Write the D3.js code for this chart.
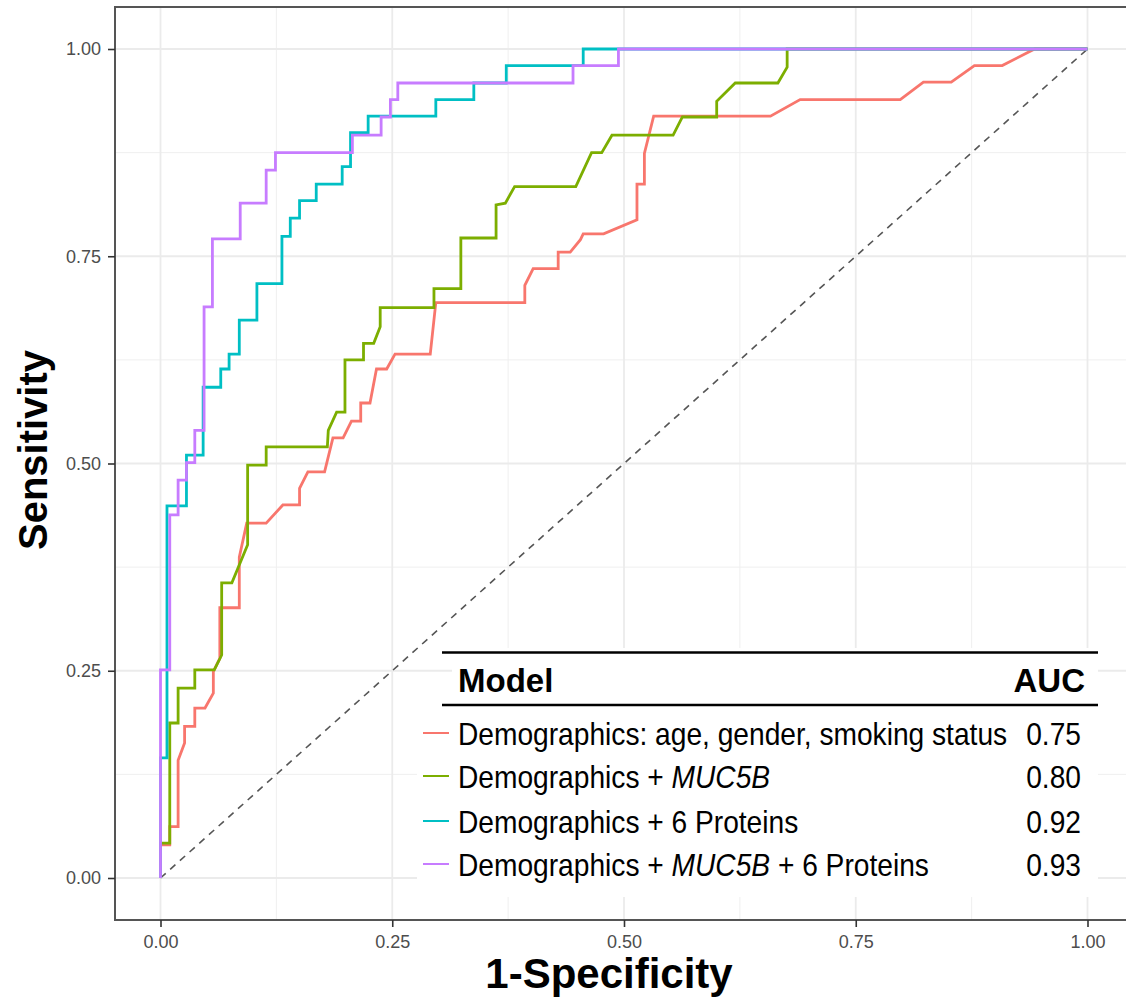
<!DOCTYPE html>
<html>
<head>
<meta charset="utf-8">
<script src="https://cdn.jsdelivr.net/npm/d3@7"></script>
<style>
body { margin: 0; background: #fff; }
text { font-family: "Liberation Sans", Arial, sans-serif; }
</style>
</head>
<body>
<script>

// models, their AUC and colours (ggplot default hues)
let models = ["Demographics: age, gender, smoking status", "Demographics + MUC5B",
  "Demographics + 6 Proteins", "Demographics + MUC5B + 6 Proteins"];
let aucs = ["0.75", "0.80", "0.92", "0.93"];
let colors = ["#F8766D", "#7CAE00", "#00BFC4", "#C77CFF"];
let tickVals = [0, 0.25, 0.5, 0.75, 1];
let minorVals = [0.125, 0.375, 0.625, 0.875];

// ROC points [1-specificity, sensitivity]
let rocDemo = [[0,0],[0,0.040],[0.010,0.040],[0.010,0.062],[0.019,0.062],[0.019,0.142],[0.026,0.163],
  [0.026,0.183],[0.037,0.183],[0.037,0.205],[0.048,0.205],[0.057,0.223],[0.057,0.249],[0.064,0.265],
  [0.064,0.326],[0.085,0.326],[0.085,0.387],[0.093,0.428],[0.114,0.428],[0.132,0.450],[0.150,0.450],
  [0.150,0.470],[0.159,0.490],[0.177,0.490],[0.186,0.531],[0.197,0.531],[0.206,0.551],[0.216,0.551],
  [0.216,0.573],[0.226,0.573],[0.233,0.614],[0.244,0.614],[0.253,0.632],[0.291,0.632],[0.297,0.694],
  [0.393,0.694],[0.393,0.715],[0.402,0.735],[0.429,0.735],[0.429,0.755],[0.442,0.755],[0.453,0.770],
  [0.456,0.777],[0.478,0.777],[0.514,0.794],[0.514,0.837],[0.522,0.837],[0.522,0.874],[0.532,0.919],
  [0.658,0.919],[0.690,0.939],[0.798,0.939],[0.823,0.960],[0.853,0.960],[0.878,0.980],[0.908,0.980],
  [0.943,1],[1,1]];

let rocMuc = [[0,0],[0,0.042],[0.010,0.042],[0.010,0.187],[0.019,0.187],[0.019,0.229],[0.037,0.229],
  [0.037,0.251],[0.058,0.251],[0.066,0.269],[0.066,0.356],[0.077,0.356],[0.094,0.402],[0.094,0.498],
  [0.114,0.498],[0.114,0.520],[0.180,0.520],[0.181,0.540],[0.190,0.562],[0.199,0.562],[0.199,0.625],
  [0.219,0.625],[0.219,0.645],[0.230,0.645],[0.237,0.665],[0.237,0.688],[0.295,0.688],[0.295,0.711],
  [0.324,0.711],[0.324,0.772],[0.362,0.772],[0.362,0.812],[0.372,0.814],[0.382,0.834],[0.448,0.834],
  [0.465,0.875],[0.476,0.875],[0.487,0.896],[0.553,0.896],[0.563,0.918],[0.600,0.918],[0.600,0.937],
  [0.620,0.959],[0.666,0.959],[0.676,0.978],[0.676,1],[1,1]];

let rocProt = [[0,0],[0,0.145],[0.007,0.145],[0.007,0.449],[0.028,0.449],[0.028,0.510],[0.046,0.510],
  [0.046,0.592],[0.065,0.592],[0.065,0.614],[0.074,0.614],[0.074,0.632],[0.085,0.632],[0.085,0.673],
  [0.104,0.673],[0.104,0.717],[0.131,0.717],[0.131,0.774],[0.140,0.774],[0.140,0.796],[0.150,0.796],
  [0.150,0.817],[0.168,0.817],[0.168,0.837],[0.196,0.837],[0.196,0.858],[0.205,0.858],[0.205,0.899],
  [0.224,0.899],[0.224,0.919],[0.297,0.919],[0.297,0.939],[0.338,0.939],[0.338,0.959],[0.373,0.959],
  [0.373,0.980],[0.456,0.980],[0.456,1],[1,1]];

let rocAll = [[0,0],[0,0.251],[0.010,0.251],[0.010,0.438],[0.019,0.438],[0.019,0.480],[0.028,0.480],
  [0.028,0.501],[0.037,0.501],[0.037,0.540],[0.047,0.540],[0.047,0.689],[0.056,0.689],[0.056,0.771],
  [0.086,0.771],[0.086,0.814],[0.114,0.814],[0.114,0.854],[0.124,0.854],[0.124,0.875],[0.207,0.875],
  [0.207,0.896],[0.238,0.896],[0.238,0.918],[0.248,0.918],[0.248,0.939],[0.256,0.939],[0.256,0.959],
  [0.445,0.959],[0.445,0.980],[0.494,0.980],[0.494,1],[1,1]];

let curves = [rocDemo, rocMuc, rocProt, rocAll];

let svg = d3.select("body").append("svg")
  .attr("width", 1126)
  .attr("height", 997);

let panel = {left: 115, top: 7, bottom: 920, right: 1135};

let x = d3.scaleLinear().domain([0, 1]).range([160.5, 1087.5]);
let y = d3.scaleLinear().domain([0, 1]).range([878, 49]);

// grid
svg.selectAll(".vminor").data(minorVals).enter().append("line")
  .attr("x1", d => x(d)).attr("x2", d => x(d))
  .attr("y1", panel.top).attr("y2", panel.bottom)
  .style("stroke", "#EFEFEF").style("stroke-width", 1);
svg.selectAll(".hminor").data(minorVals).enter().append("line")
  .attr("y1", d => y(d)).attr("y2", d => y(d))
  .attr("x1", panel.left).attr("x2", panel.right)
  .style("stroke", "#EFEFEF").style("stroke-width", 1);
svg.selectAll(".vmajor").data(tickVals).enter().append("line")
  .attr("x1", d => x(d)).attr("x2", d => x(d))
  .attr("y1", panel.top).attr("y2", panel.bottom)
  .style("stroke", "#EBEBEB").style("stroke-width", 1.8);
svg.selectAll(".hmajor").data(tickVals).enter().append("line")
  .attr("y1", d => y(d)).attr("y2", d => y(d))
  .attr("x1", panel.left).attr("x2", panel.right)
  .style("stroke", "#EBEBEB").style("stroke-width", 1.8);

// chance line
svg.append("line")
  .attr("x1", x(0)).attr("y1", y(0))
  .attr("x2", x(1)).attr("y2", y(1))
  .style("stroke", "#555").style("stroke-width", 1.6)
  .style("stroke-dasharray", "7,6");

let line = d3.line().x(d => x(d[0])).y(d => y(d[1]));

curves.forEach(function (c, i) {
  svg.append("path")
    .datum(c)
    .attr("d", line)
    .style("fill", "none")
    .style("stroke", colors[i])
    .style("stroke-width", 2.8)
    .style("stroke-linejoin", "miter");
});

// panel border
svg.append("rect")
  .attr("x", panel.left).attr("y", panel.top)
  .attr("width", panel.right - panel.left).attr("height", panel.bottom - panel.top)
  .style("fill", "none").style("stroke", "#555").style("stroke-width", 2);

// axes
let yAxis = svg.append("g")
  .attr("transform", "translate(" + panel.left + ",0)")
  .call(d3.axisLeft(y).tickValues(tickVals).tickFormat(d3.format(".2f")).tickSize(7).tickPadding(7));
let xAxis = svg.append("g")
  .attr("transform", "translate(0," + panel.bottom + ")")
  .call(d3.axisBottom(x).tickValues(tickVals).tickFormat(d3.format(".2f")).tickSize(7).tickPadding(8));

[xAxis, yAxis].forEach(function (a) {
  a.select(".domain").remove();
  a.selectAll(".tick line").style("stroke", "#333").style("stroke-width", 1.6);
  a.selectAll(".tick text")
    .style("font-family", "'Liberation Sans', Arial, sans-serif")
    .style("font-size", "18px")
    .style("fill", "#4D4D4D");
});

svg.append("text")
  .attr("x", 609).attr("y", 988)
  .attr("text-anchor", "middle")
  .style("font-size", "42px").style("font-weight", "bold")
  .text("1-Specificity");

svg.append("text")
  .attr("transform", "translate(47,450) rotate(-90)")
  .attr("text-anchor", "middle")
  .style("font-size", "40px").style("font-weight", "bold")
  .text("Sensitivity");

// legend table
svg.append("rect")
  .attr("x", 452).attr("y", 648).attr("width", 646).attr("height", 60)
  .style("fill", "white");
svg.append("rect")
  .attr("x", 417).attr("y", 708).attr("width", 681).attr("height", 189)
  .style("fill", "white");

[652.5, 705].forEach(function (ry) {
  svg.append("line")
    .attr("x1", 442).attr("x2", 1098).attr("y1", ry).attr("y2", ry)
    .style("stroke", "black").style("stroke-width", 2.5);
});

svg.append("text").attr("x", 458).attr("y", 692)
  .style("font-size", "33px").style("font-weight", "bold").text("Model");
svg.append("text").attr("x", 1085).attr("y", 692).attr("text-anchor", "end")
  .style("font-size", "33px").style("font-weight", "bold").text("AUC");

let rowY = [745, 788, 833, 876];

models.forEach(function (m, i) {
  svg.append("line")
    .attr("x1", 423).attr("x2", 449)
    .attr("y1", rowY[i] - 12).attr("y2", rowY[i] - 12)
    .style("stroke", colors[i]).style("stroke-width", 2);

  let t = svg.append("text")
    .attr("transform", "translate(458," + rowY[i] + ") scale(0.88,1)")
    .style("font-size", "32px");
  m.split(/(MUC5B)/).forEach(function (part) {
    if (part === "") return;
    t.append("tspan")
      .style("font-style", part === "MUC5B" ? "italic" : "normal")
      .text(part);
  });

  svg.append("text")
    .attr("transform", "translate(1081," + rowY[i] + ") scale(0.88,1)")
    .attr("text-anchor", "end")
    .style("font-size", "32px")
    .text(aucs[i]);
});

</script>
</body>
</html>
